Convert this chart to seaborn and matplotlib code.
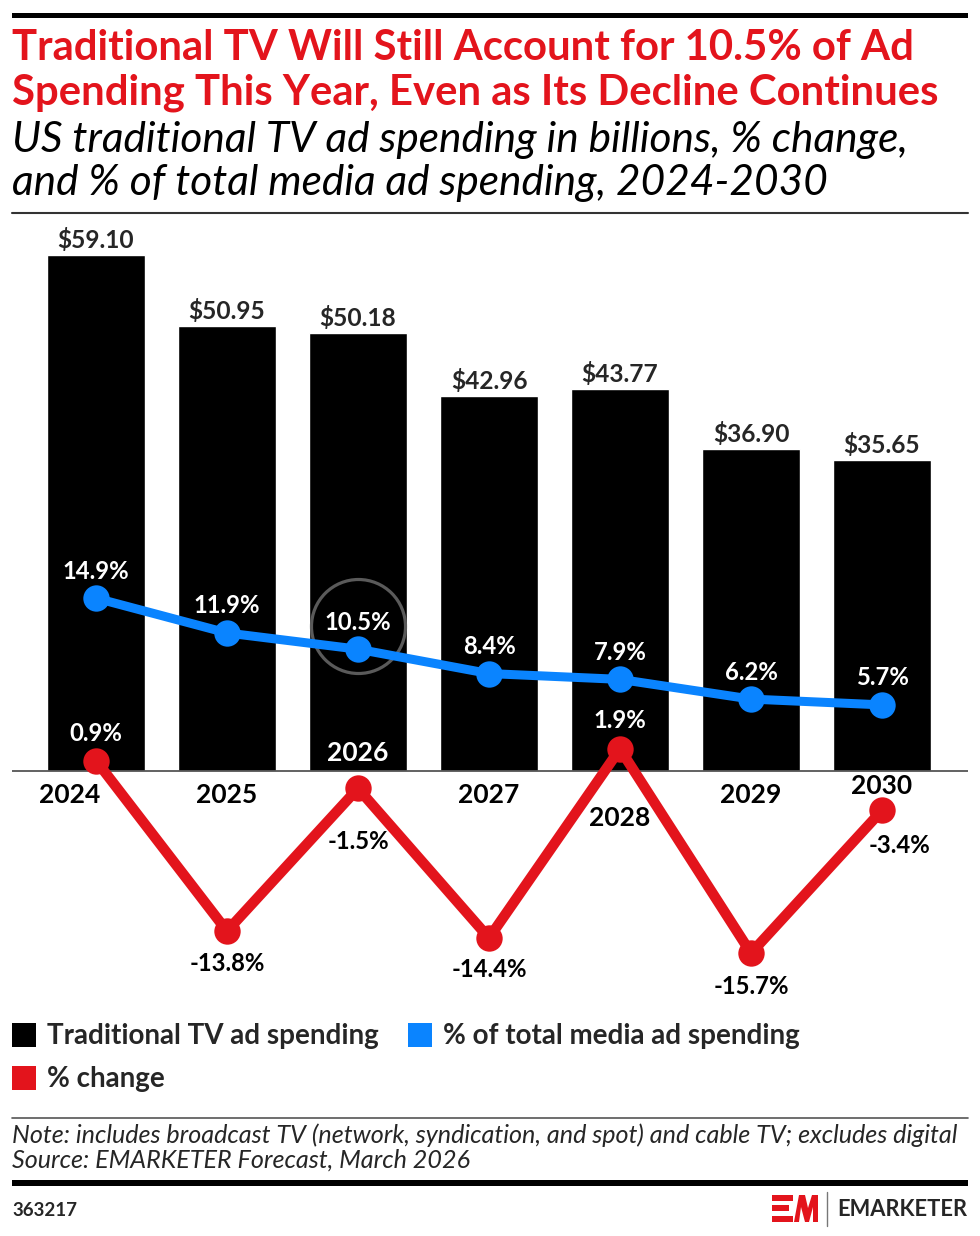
import numpy as np
import pandas as pd
import seaborn as sns
import matplotlib.pyplot as plt
from matplotlib.patches import Rectangle, Polygon
from matplotlib.lines import Line2D
from matplotlib.transforms import offset_copy

# ---------------------
# data
# ---------------------
years = ["2024", "2025", "2026", "2027", "2028", "2029", "2030"]
spending = [59.10, 50.95, 50.18, 42.96, 43.77, 36.90, 35.65]      # billions
pct_total = [14.9, 11.9, 10.5, 8.4, 7.9, 6.2, 5.7]               # % of total media ad spending
pct_change = [0.9, -13.8, -1.5, -14.4, 1.9, -15.7, -3.4]         # % change
highlight = "2026"

title_lines = ["Traditional TV Will Still Account for 10.5% of Ad",
               "Spending This Year, Even as Its Decline Continues"]
subtitle_lines = ["US traditional TV ad spending in billions, % change,",
                  "and % of total media ad spending, 2024-2030"]
legend_labels = ["Traditional TV ad spending", "% of total media ad spending", "% change"]
note = "Note: includes broadcast TV (network, syndication, and spot) and cable TV; excludes digital"
source = "Source: EMARKETER Forecast, March 2026"
chart_id = "363217"

# ---------------------
# layout (pixels)
# ---------------------
RED = "#E3141C"
BLUE = "#0A84FF"
W, H = 980, 1236
AX_TOP, AX_BOT, BASE = 220, 1000, 771
USD_PX = 8.73      # px per billion
PCT_PX = 11.6      # px per percentage point

# label offsets in px (positive = right / down) relative to the point / baseline
change_dx = [0, 0, 0, 0, 0, 0, 17]
change_dy = [-27, 32, 53, 31, -28, 33, 35]
year_dx = [-26, 0, 0, 0, 0, 0, 0]
year_dy = [24, 24, -18, 24, 47, 24, 15]

sns.set_theme(style="white")
plt.rcParams["font.family"] = ["Lato", "DejaVu Sans"]

fig = plt.figure(figsize=(W / 100, H / 100), dpi=100)
renderer = fig.canvas.get_renderer()


def fx(px):
    return px / W


def fy(py):
    return 1 - py / H


def pt(px):
    return px * 72 / 100


def fit(t, width):
    w = t.get_window_extent(renderer).width
    t.set_fontsize(t.get_fontsize() * width / w)
    return t.get_fontsize()


def size_for(text, width, **kw):
    t = fig.text(0, 0, text, fontsize=20, **kw)
    fs = fit(t, width)
    t.remove()
    return fs


# ---------------------
# chart
# ---------------------
df = pd.DataFrame({"year": years, "spending": spending,
                   "pct_total": pct_total, "pct_change": pct_change})
xpos = np.arange(len(df))

ax = fig.add_axes([fx(12), fy(AX_BOT), (968 - 12) / W, (AX_BOT - AX_TOP) / H])
sns.barplot(data=df, x="year", y="spending", color="black", saturation=1,
            width=0.75, ax=ax)
ax.axhline(0, color="#555555", lw=1.3, zorder=3)

ax2 = ax.twinx()
sns.lineplot(x=xpos, y=df["pct_total"], ax=ax2, color=BLUE, linewidth=6.5,
             marker="o", markersize=19, markeredgewidth=0, zorder=4)
sns.lineplot(x=xpos, y=df["pct_change"], ax=ax2, color=RED, linewidth=7.5,
             marker="o", markersize=19, markeredgewidth=0, zorder=4)

# circle round the highlighted share
hi = years.index(highlight)
ax2.plot([xpos[hi]], [pct_total[hi]], marker="o", markersize=pt(94),
         markerfacecolor="none", markeredgecolor="#5a5a5a", markeredgewidth=2.3,
         transform=offset_copy(ax2.transData, fig=fig, x=0, y=23, units="dots"),
         zorder=3)

ax.set_ylim(-(AX_BOT - BASE) / USD_PX, (BASE - AX_TOP) / USD_PX)
ax2.set_ylim(-(AX_BOT - BASE) / PCT_PX, (BASE - AX_TOP) / PCT_PX)
ax.set_xlim((12 - 96) / 131, (968 - 96) / 131)
for a in (ax, ax2):
    a.set_axis_off()

fs_bar = size_for("$59.10", 77, fontweight="bold")
fs_pct = size_for("-15.7%", 76, fontweight="bold")
fs_year = size_for("2029", 61, fontweight="bold")

for i, v in enumerate(spending):
    ax.annotate(f"${v:.2f}", (xpos[i], v), xytext=(0, pt(7)), textcoords="offset points",
                ha="center", va="baseline", fontsize=fs_bar, fontweight="bold")

for i, v in enumerate(pct_total):
    ax2.annotate(f"{v:.1f}%", (xpos[i], v), xytext=(0, pt(27)), textcoords="offset points",
                 ha="center", va="center", fontsize=fs_pct, fontweight="bold",
                 color="white", zorder=6)

for i, v in enumerate(pct_change):
    c = "white" if change_dy[i] < 0 else "black"
    ax2.annotate(f"{v:.1f}%", (xpos[i], v), xytext=(pt(change_dx[i]), -pt(change_dy[i])),
                 textcoords="offset points", ha="center", va="center",
                 fontsize=fs_pct, fontweight="bold", color=c, zorder=6)

for i, y in enumerate(years):
    c = "white" if year_dy[i] < 0 else "black"
    ax2.annotate(y, (xpos[i], 0), xytext=(pt(year_dx[i]), -pt(year_dy[i])),
                 textcoords="offset points", ha="center", va="center",
                 fontsize=fs_year, fontweight="bold", color=c, zorder=6)

# ---------------------
# header
# ---------------------
fig.add_artist(Rectangle((fx(12), fy(18)), 956 / W, 5 / H, transform=fig.transFigure,
                         color="black", lw=0))
t1 = fig.text(fx(12), fy(60), title_lines[0], color=RED, fontweight="bold", va="baseline")
t2 = fig.text(fx(12), fy(104), title_lines[1], color=RED, fontweight="bold", va="baseline")
t1.set_fontsize(fit(t2, 923))

s1 = fig.text(fx(12), fy(152), subtitle_lines[0], fontstyle="italic", fontweight="normal",
              va="baseline", color="black")
s2 = fig.text(fx(12), fy(195), subtitle_lines[1], fontstyle="italic", fontweight="normal",
              va="baseline", color="black")
s2.set_fontsize(fit(s1, 893))
fig.add_artist(Line2D([fx(12), fx(968)], [fy(213), fy(213)], transform=fig.transFigure,
                      color="#333333", lw=1.5))

# ---------------------
# legend
# ---------------------
leg_items = [(12, 1035, "black"), (408, 1035, BLUE), (12, 1078, RED)]
fs_leg = None
for (x, y, c), lab in zip(leg_items, legend_labels):
    fig.add_artist(Rectangle((fx(x), fy(y + 12)), 24 / W, 24 / H,
                             transform=fig.transFigure, color=c, lw=0))
    t = fig.text(fx(x + 35), fy(y + 9), lab, fontweight="bold", va="baseline")
    if fs_leg is None:
        fs_leg = fit(t, 330)
    else:
        t.set_fontsize(fs_leg)

# ---------------------
# footer
# ---------------------
fig.add_artist(Line2D([fx(12), fx(968)], [fy(1118), fy(1118)], transform=fig.transFigure,
                      color="#555555", lw=1.2))
n1 = fig.text(fx(12), fy(1143), note, fontstyle="italic", fontweight="normal", va="baseline")
n2 = fig.text(fx(12), fy(1168), source, fontstyle="italic", fontweight="normal", va="baseline")
n2.set_fontsize(fit(n1, 941))
fig.add_artist(Rectangle((fx(12), fy(1186)), 956 / W, 6 / H, transform=fig.transFigure,
                         color="black", lw=0))

cid = fig.text(fx(12), fy(1216), chart_id, fontweight="bold", va="baseline")
fit(cid, 65)

# logo
for top, bot, right in [(1195, 1201, 793), (1205, 1211, 789), (1216, 1222, 793)]:
    fig.add_artist(Rectangle((fx(772), fy(bot)), (right - 772) / W, (bot - top) / H,
                             transform=fig.transFigure, color=RED, lw=0))
m_pts = [(794, 1222), (799, 1195), (805, 1195), (808, 1208), (812, 1195), (818, 1195),
         (818, 1222), (813, 1222), (813, 1207), (809, 1222), (805, 1222), (801, 1207),
         (799, 1222)]
fig.add_artist(Polygon([(fx(a), fy(b)) for a, b in m_pts], closed=True,
                       transform=fig.transFigure, color=RED, lw=0))
fig.add_artist(Line2D([fx(827), fx(827)], [fy(1192), fy(1226)], transform=fig.transFigure,
                      color="#777777", lw=1))
logo = fig.text(fx(837), fy(1216), "EMARKETER", fontweight="bold", va="baseline")
fit(logo, 130)

fig.savefig("out.png", dpi=100)
